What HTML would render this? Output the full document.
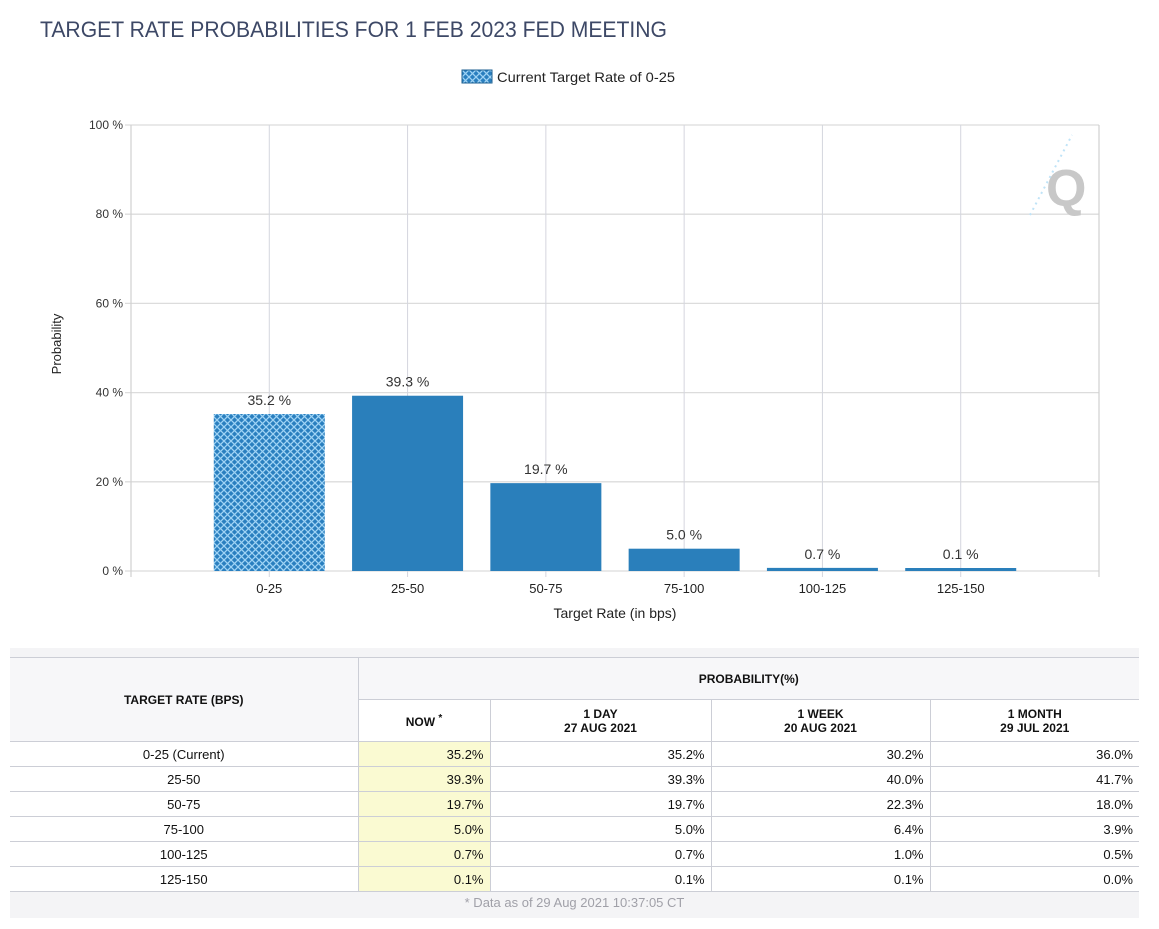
<!DOCTYPE html>
<html><head><meta charset="utf-8">
<style>
body{margin:0;width:1159px;height:929px;background:#fff;font-family:"Liberation Sans",sans-serif;overflow:hidden;position:relative}
#chart{position:absolute;left:0;top:0}
#tbl{position:absolute;left:10px;top:648px;width:1129px;height:270px;background:#f4f4f6}
table{position:absolute;left:0;top:9px;border-collapse:collapse;width:1129px;font-size:13px;color:#111}
td,th{border:1px solid #ccced6;padding:0 4px;}
th{font-weight:bold;font-size:12px;background:#f7f7f9}
td{background:#fff;height:24px}
td.c{text-align:center;border-left:none}
td.r{text-align:right;padding-right:6px}
td.now{background:#fafad2}
#foot{position:absolute;left:0;top:247px;width:1129px;text-align:center;font-size:13px;color:#a0a0a8}
</style></head><body>
<svg id="chart" width="1159" height="648">
<defs>
<pattern id="hatch" width="7" height="7" patternUnits="userSpaceOnUse">
<rect width="7" height="7" fill="#2a7fbf"/>
<path d="M0,0L7,7M7,0L0,7" stroke="#9fd3f5" stroke-width="1.3"/>
</pattern>
</defs>
<text x="40" y="37" font-size="22" fill="#3d4866" textLength="627" lengthAdjust="spacingAndGlyphs">TARGET RATE PROBABILITIES FOR 1 FEB 2023 FED MEETING</text>
<g>
<rect x="462" y="70" width="30" height="13" fill="url(#hatch)" stroke="#1d5f90"/>
<text x="497" y="82" font-size="14" fill="#222" textLength="178" lengthAdjust="spacingAndGlyphs">Current Target Rate of 0-25</text>
</g>
<g id="grid"></g>
<g id="bars"></g>
<g>
<text x="1046" y="206" font-size="52" font-weight="bold" fill="#c8c8c8">Q</text>
<path d="M1030,215L1072,135" stroke="#bfe3f7" stroke-width="2" stroke-dasharray="2,4"/>
</g>
<text transform="translate(61,344) rotate(-90)" text-anchor="middle" font-size="13" fill="#222">Probability</text>
<text x="615" y="618" text-anchor="middle" font-size="14" fill="#222">Target Rate (in bps)</text>
</svg>
<script>
const categories=["0-25","25-50","50-75","75-100","100-125","125-150"];
const values=[35.2,39.3,19.7,5.0,0.7,0.1];
const yTicks=[0,20,40,60,80,100];
const L=131,R=1099,T=125,B=571;
const step=(R-L)/(categories.length+1);
const xc=i=>L+step*(i+1);
const y=v=>B-(v/100)*(B-T);
const NS="http://www.w3.org/2000/svg";
function mk(tag,attrs,parent,txt){const e=document.createElementNS(NS,tag);for(const k in attrs)e.setAttribute(k,attrs[k]);if(txt!==undefined)e.textContent=txt;parent.appendChild(e);return e;}
const g=document.getElementById('grid'),bg=document.getElementById('bars');
yTicks.forEach(t=>{
 const l=mk('line',{x1:L-6,x2:R,y1:y(t),y2:y(t),stroke:'#dcdcdc','stroke-width':1.3},g);
 
 
 const tx=mk('text',{x:L-8,y:y(t)+4,'text-anchor':'end','font-size':12,fill:'#333'},g,t+' %');
 
 
});
[L,R].forEach(x=>{
 const l=mk('line',{x1:x,x2:x,y1:T,y2:B+6,stroke:'#d0d0d0','stroke-width':1.2},g);
 
 
});
categories.forEach((c,i)=>{
 const x=xc(i),v=values[i];
 const vl=mk('line',{x1:x,x2:x,y1:T,y2:B+6,stroke:'#d4d6de','stroke-width':1},g);
 
 
 const h=Math.max(B-y(v),3);
 const r=mk('rect',{x:x-55.5,y:B-h,width:111,height:h,fill:i===0?'url(#hatch)':'#2a7fbb'},bg);
 
 
 const lb=mk('text',{x:x,y:B-h-9,'text-anchor':'middle','font-size':14,fill:'#333'},bg,v.toFixed(1)+' %');
 
 
 const tl=mk('text',{x:x,y:B+22,'text-anchor':'middle','font-size':13,fill:'#222'},bg,c);
 
 
});
</script>
<div id="tbl">
<table>
<colgroup><col style="width:348px"><col style="width:132px"><col style="width:221px"><col style="width:219px"><col style="width:209px"></colgroup>
<tr style="height:42px"><th rowspan="2" style="border-left:none">TARGET RATE (BPS)</th><th colspan="4" style="border-right:none">PROBABILITY(%)</th></tr>
<tr style="height:42px"><th style="background:#fff">NOW <sup>*</sup></th><th style="background:#fff">1 DAY<br>27 AUG 2021</th><th style="background:#fff">1 WEEK<br>20 AUG 2021</th><th style="background:#fff;border-right:none">1 MONTH<br>29 JUL 2021</th></tr>
<tr><td class="c">0-25 (Current)</td><td class="r now">35.2%</td><td class="r">35.2%</td><td class="r">30.2%</td><td class="r" style="border-right:none">36.0%</td></tr>
<tr><td class="c">25-50</td><td class="r now">39.3%</td><td class="r">39.3%</td><td class="r">40.0%</td><td class="r" style="border-right:none">41.7%</td></tr>
<tr><td class="c">50-75</td><td class="r now">19.7%</td><td class="r">19.7%</td><td class="r">22.3%</td><td class="r" style="border-right:none">18.0%</td></tr>
<tr><td class="c">75-100</td><td class="r now">5.0%</td><td class="r">5.0%</td><td class="r">6.4%</td><td class="r" style="border-right:none">3.9%</td></tr>
<tr><td class="c">100-125</td><td class="r now">0.7%</td><td class="r">0.7%</td><td class="r">1.0%</td><td class="r" style="border-right:none">0.5%</td></tr>
<tr><td class="c">125-150</td><td class="r now">0.1%</td><td class="r">0.1%</td><td class="r">0.1%</td><td class="r" style="border-right:none">0.0%</td></tr>
</table>
<div id="foot">* Data as of 29 Aug 2021 10:37:05 CT</div>
</div>
</body></html>
